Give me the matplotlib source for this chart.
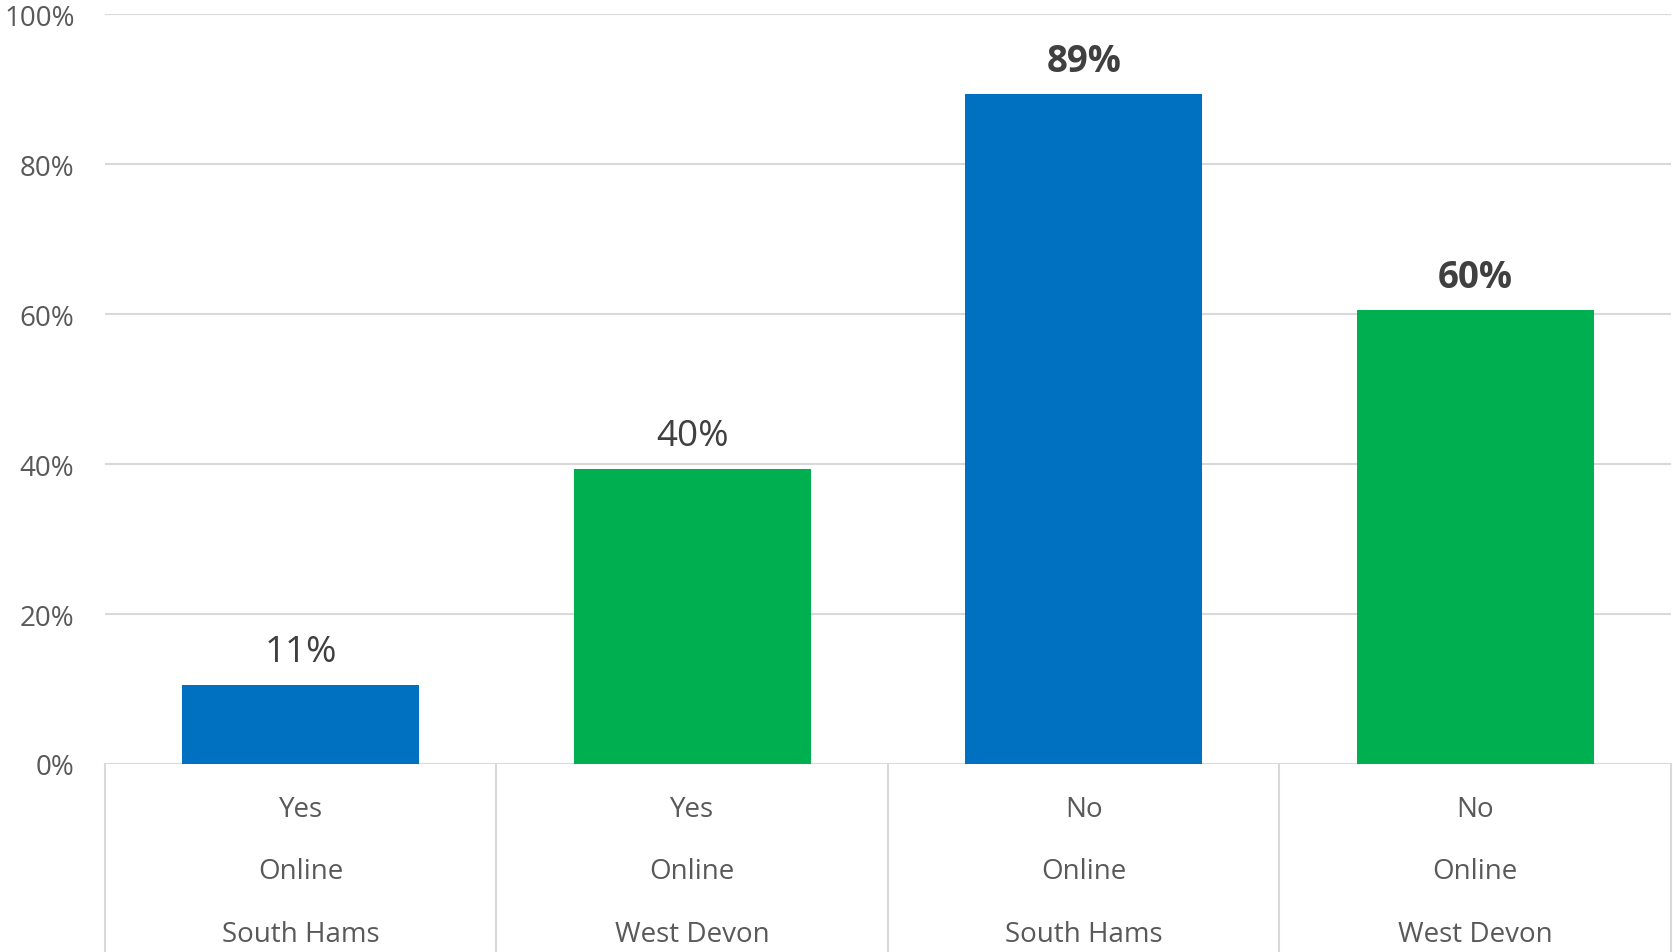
import matplotlib
matplotlib.use("Agg")
import matplotlib.pyplot as plt
from matplotlib.transforms import blended_transform_factory

plt.rcParams['font.family'] = ['Open Sans', 'DejaVu Sans']

answers = ["Yes", "Yes", "No", "No"]
channels = ["Online", "Online", "Online", "Online"]
areas = ["South Hams", "West Devon", "South Hams", "West Devon"]
values = [10.6, 39.4, 89.4, 60.6]
value_labels = ["11%", "40%", "89%", "60%"]
label_bold = [False, False, True, True]
colors = ["#0070C0", "#00B050", "#0070C0", "#00B050"]
yticks = [0, 20, 40, 60, 80, 100]

W, H = 1674, 953
fig = plt.figure(figsize=(W / 100, H / 100), dpi=100)
ax = fig.add_axes([105 / W, (H - 765) / H, 1566 / W, 750 / H])

x = list(range(len(values)))
ax.bar(x, values, width=0.605, color=colors, zorder=3)
ax.set_xlim(-0.5, len(values) - 0.5)
ax.set_ylim(0, 100)

for s in ax.spines.values():
    s.set_visible(False)
ax.set_yticks(yticks)
ax.set_yticklabels([f"{t}%" for t in yticks], fontsize=20, color="#595959")
ax.tick_params(axis='y', length=0, pad=22)
ax.set_xticks([])
for t in yticks:
    ax.axhline(t, color="#D9D9D9", lw=1.5, zorder=1)

trans = blended_transform_factory(ax.transData, ax.transAxes)
for b in [i - 0.5 for i in range(len(values) + 1)]:
    ax.plot([b, b], [0, -0.3], color="#D9D9D9", lw=1.5, transform=trans, clip_on=False)

for i in x:
    for yy, txt in zip([-0.0595, -0.1425, -0.2265], [answers[i], channels[i], areas[i]]):
        ax.text(i, yy, txt, transform=trans, ha='center', va='center', fontsize=20, color="#595959")
    ax.annotate(value_labels[i], (i, values[i]), xytext=(0, 23.5), textcoords='offset points',
                ha='center', va='center', fontsize=26.5, color="#404040",
                fontweight='bold' if label_bold[i] else 'normal')

fig.savefig("out.png", dpi=100)
